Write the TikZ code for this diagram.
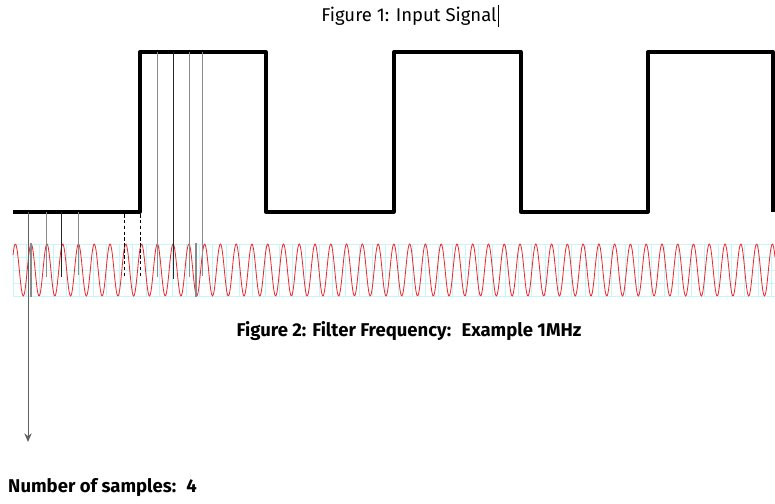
\documentclass[tikz,border=0pt]{standalone}
\usepackage{fontspec}
\setmainfont{Fira Sans}
\usepackage{xcolor}
\usepackage{tikz}
\usetikzlibrary{arrows.meta, positioning, calc}
\definecolor{sigink}{HTML}{000000}
\definecolor{wavered}{HTML}{F0282D}
\definecolor{gridcyan}{HTML}{C4F6FA}
\definecolor{tapgray}{HTML}{8A8A8A}
\tikzset{
  sig/.style={draw=sigink, line width=2.8pt, line join=round},
  wave/.style={draw=wavered, line width=0.7pt},
  gridline/.style={draw=gridcyan, line width=0.4pt},
  tap/.style={draw=tapgray, line width=0.8pt},
  tapdark/.style={draw=sigink!85, line width=0.6pt},
  tapdash/.style={draw=sigink, line width=0.6pt, dash pattern=on 3pt off 2pt},
  probe/.style={-{Stealth[length=2.6mm, width=2.2mm]}, draw=tapgray!70!black, line width=0.8pt},
  caption/.style={font=\fontsize{15.8}{18}\selectfont, text=sigink, inner sep=0pt},
  capbold/.style={caption, font=\fontsize{15.8}{18}\selectfont\bfseries}
}

\begin{document}
\begin{tikzpicture}[x=0.03cm, y=-0.03cm]
\useasboundingbox (0,0) rectangle (775,504);
% captions
\node[caption] (fig1) at (409,16) {Figure 1: Input Signal};
\draw[line width=0.6pt] ($(fig1.east)+(1.5,-11)$) -- ($(fig1.east)+(1.5,11)$);
\node[capbold] (fig2) at (409,331) {Figure 2: Filter Frequency:~ Example 1MHz};
\node[capbold, anchor=west] (count) at (8,488) {Number of samples:~ 4};
% filter grid
\foreach \gy in {244,257,270,283,296}
  \draw[gridline] (13,\gy) -- (775,\gy);
\foreach \gx in {13,26.3,...,775}
  \draw[gridline] (\gx,244) -- (\gx,296);
% filter frequency
\draw[wave] plot[domain=13:775, samples=1100] (\x, {270-26*cos(mod(\x-15.4,15.77)*22.828)});
% input signal
\draw[sig] (13,212) -- (140,212) -- (140,52) -- (266,52) -- (266,212) -- (394,212)
  -- (394,52) -- (521,52) -- (521,212) -- (648,212) -- (648,52) -- (773,52) -- (773,212);
% sample taps
\foreach \sx/\sy in {46.7/277, 78.3/275}
  \draw[tap] (\sx,212) -- (\sx,\sy);
\draw[tapdark] (61.7,212) -- (61.7,277);
\foreach \sx in {124.3,140.7}
  \draw[tapdash] (\sx,214) -- (\sx,277);
\foreach \sx/\sy in {157.3/277, 189.3/277, 202.7/276}
  \draw[tap] (\sx,52) -- (\sx,\sy);
\draw[tapdark] (173.3,52) -- (173.3,279);
\foreach \sx in {31,196}
  \draw[tap, line width=1.1pt] (\sx,243) -- (\sx,297);
% sample count
\coordinate (probetop) at (28,212);
\coordinate (probeend) at (28,442);
\draw[probe] (probetop) -- (probeend);
\end{tikzpicture}
\end{document}
